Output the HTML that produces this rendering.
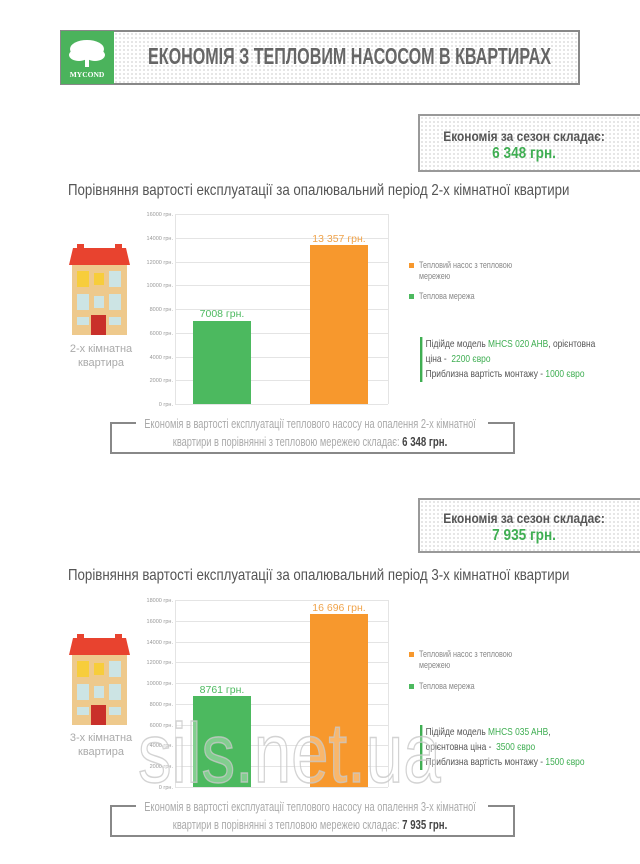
<!DOCTYPE html>
<html><head><meta charset="utf-8"><style>
*{margin:0;padding:0;box-sizing:border-box}
body{width:640px;height:864px;background:#fff;position:relative;overflow:hidden;font-family:"Liberation Sans",sans-serif;color:#555}
.a{position:absolute}
.s{display:inline-block;white-space:nowrap}
.dot{background-color:#fff;background-image:radial-gradient(#ddd 0.8px,transparent 1px);background-size:4px 4px}
.sum{border:2px solid #999;text-align:center;font-weight:bold;font-size:14px;line-height:17px;color:#555;padding-right:14px}
.sum b{color:#3fae52;font-size:16px}
.title{font-size:16px;color:#555;white-space:nowrap;transform:scaleX(0.83);transform-origin:left top}
.br{border:2px solid #888;border-top:none}
.brt{height:2px;background:#888}
.btxt{font-size:12.5px;color:#aaa;text-align:center;line-height:17px;white-space:nowrap}
.btxt b{color:#444;font-size:13px}
.leg{font-size:9px;color:#888;line-height:11px;white-space:nowrap;transform:scaleX(0.8);transform-origin:left top}
.info{font-size:10.5px;color:#555;line-height:15px;border-left:3px solid #3fae52;padding-left:4px;white-space:nowrap;transform:scaleX(0.8);transform-origin:left top}
.info span{color:#3fae52}
.cap{font-size:11px;color:#aaa;text-align:center;line-height:14px}
</style></head><body>

<div class="a dot" style="left:60px;top:30px;width:520px;height:55px;border:2px solid #888"></div>
<div class="a" style="left:61px;top:31px;width:53px;height:53px;background:#4bb35c">
<svg width="53" height="53"><ellipse cx="26" cy="18" rx="17" ry="9" fill="#fff"/><ellipse cx="18" cy="24" rx="10" ry="6" fill="#fff"/><ellipse cx="34" cy="24" rx="10" ry="6" fill="#fff"/><rect x="24" y="24" width="4" height="12" fill="#fff"/><text x="26" y="46" font-size="7.5" fill="#fff" text-anchor="middle" font-family="Liberation Serif,serif" font-weight="bold">MYCOND</text></svg></div>
<div class="a" style="left:148px;top:43px;font-size:23px;font-weight:bold;color:#666;white-space:nowrap;transform:scaleX(0.70);transform-origin:left top">ЕКОНОМІЯ З ТЕПЛОВИМ НАСОСОМ В КВАРТИРАХ</div>

<div class="a dot sum" style="left:418px;top:114px;width:226px;height:58px;padding-top:12px"><span class="s" style="transform:scaleX(0.85)">Економія за сезон складає:<br><b>6 348 грн.</b></span></div>
<div class="a title" style="left:68px;top:182px">Порівняння вартості експлуатації за опалювальний період 2-х кімнатної квартири</div>

<svg class="a" style="left:0;top:0" width="640" height="864">
<defs>
<g id="house">
<rect x="8" y="-2" width="7" height="5" fill="#e8432f"/><rect x="46" y="-2" width="7" height="5" fill="#e8432f"/>
<polygon points="4,2 57,2 61,19 0,19" fill="#e8432f"/>
<rect x="3" y="19" width="55" height="70" fill="#eec98c"/>
<rect x="8" y="25" width="12" height="16" fill="#f7cd3b"/><rect x="25" y="27" width="10" height="12" fill="#f7cd3b"/><rect x="40" y="25" width="12" height="16" fill="#cce4e4"/>
<rect x="8" y="48" width="12" height="16" fill="#cce4e4"/><rect x="25" y="50" width="10" height="12" fill="#cce4e4"/><rect x="40" y="48" width="12" height="16" fill="#cce4e4"/>
<rect x="8" y="71" width="12" height="8" fill="#cce4e4"/><rect x="40" y="71" width="12" height="8" fill="#cce4e4"/>
<rect x="22" y="69" width="15" height="20" fill="#c9302a"/>
</g>
</defs>
<use href="#house" x="69" y="246"/>
<use href="#house" x="69" y="636"/>

<g stroke="#e4e4e4" stroke-width="1">
<line x1="175" y1="214.5" x2="388" y2="214.5"/><line x1="175" y1="238.5" x2="388" y2="238.5"/><line x1="175" y1="262.5" x2="388" y2="262.5"/><line x1="175" y1="285.5" x2="388" y2="285.5"/><line x1="175" y1="309.5" x2="388" y2="309.5"/><line x1="175" y1="333.5" x2="388" y2="333.5"/><line x1="175" y1="357.5" x2="388" y2="357.5"/><line x1="175" y1="380.5" x2="388" y2="380.5"/><line x1="175" y1="404.5" x2="388" y2="404.5"/>
<line x1="175.5" y1="214" x2="175.5" y2="404"/><line x1="388.5" y1="214" x2="388.5" y2="404"/>
</g>
<g font-size="5.5" fill="#999" text-anchor="end" font-family="Liberation Sans,sans-serif">
<text x="173" y="216">16000 грн.</text><text x="173" y="240">14000 грн.</text><text x="173" y="264">12000 грн.</text><text x="173" y="287">10000 грн.</text><text x="173" y="311">8000 грн.</text><text x="173" y="335">6000 грн.</text><text x="173" y="359">4000 грн.</text><text x="173" y="382">2000 грн.</text><text x="173" y="406">0 грн.</text>
</g>
<rect x="193" y="321" width="58" height="83" fill="#4cb95f"/>
<rect x="310" y="245" width="58" height="159" fill="#f7982d"/>
<text x="222" y="317" font-size="10.5" fill="#4cb95f" text-anchor="middle">7008 грн.</text>
<text x="339" y="242" font-size="10.5" fill="#f0a34a" text-anchor="middle">13 357 грн.</text>

<g stroke="#e4e4e4" stroke-width="1">
<line x1="175" y1="600.5" x2="388" y2="600.5"/><line x1="175" y1="621.5" x2="388" y2="621.5"/><line x1="175" y1="642.5" x2="388" y2="642.5"/><line x1="175" y1="662.5" x2="388" y2="662.5"/><line x1="175" y1="683.5" x2="388" y2="683.5"/><line x1="175" y1="704.5" x2="388" y2="704.5"/><line x1="175" y1="725.5" x2="388" y2="725.5"/><line x1="175" y1="745.5" x2="388" y2="745.5"/><line x1="175" y1="766.5" x2="388" y2="766.5"/><line x1="175" y1="787.5" x2="388" y2="787.5"/>
<line x1="175.5" y1="600" x2="175.5" y2="787"/><line x1="388.5" y1="600" x2="388.5" y2="787"/>
</g>
<g font-size="5.5" fill="#999" text-anchor="end" font-family="Liberation Sans,sans-serif">
<text x="173" y="602">18000 грн.</text><text x="173" y="623">16000 грн.</text><text x="173" y="644">14000 грн.</text><text x="173" y="664">12000 грн.</text><text x="173" y="685">10000 грн.</text><text x="173" y="706">8000 грн.</text><text x="173" y="727">6000 грн.</text><text x="173" y="747">4000 грн.</text><text x="173" y="768">2000 грн.</text><text x="173" y="789">0 грн.</text>
</g>
<rect x="193" y="696" width="58" height="91" fill="#4cb95f"/>
<rect x="310" y="614" width="58" height="173" fill="#f7982d"/>
<text x="222" y="693" font-size="10.5" fill="#4cb95f" text-anchor="middle">8761 грн.</text>
<text x="339" y="611" font-size="10.5" fill="#f0a34a" text-anchor="middle">16 696 грн.</text>

<rect x="409" y="263" width="5" height="5" fill="#f7982d"/><rect x="409" y="294" width="5" height="5" fill="#4cb95f"/>
<rect x="409" y="652" width="5" height="5" fill="#f7982d"/><rect x="409" y="684" width="5" height="5" fill="#4cb95f"/>
</svg>

<div class="a leg" style="left:419px;top:260px">Тепловий насос з тепловою<br>мережею</div>
<div class="a leg" style="left:419px;top:291px">Теплова мережа</div>
<div class="a info" style="left:420px;top:337px">Підійде модель <span>MHCS 020 AHB</span>, орієнтовна<br>ціна - &nbsp;<span>2200 євро</span><br>Приблизна вартість монтажу - <span>1000 євро</span></div>
<div class="a cap" style="left:66px;top:342px;width:70px">2-х кімнатна<br>квартира</div>

<div class="a br" style="left:110px;top:422px;width:405px;height:32px"></div>
<div class="a brt" style="left:110px;top:422px;width:26px"></div>
<div class="a brt" style="left:488px;top:422px;width:27px"></div>
<div class="a btxt" style="left:86px;top:416px;width:405px"><span class="s" style="transform:scaleX(0.74)">Економія в вартості експлуатації теплового насосу на опалення 2-х кімнатної<br>квартири в порівнянні з тепловою мережею складає: <b>6 348 грн.</b></span></div>

<div class="a dot sum" style="left:418px;top:498px;width:226px;height:55px;padding-top:10px"><span class="s" style="transform:scaleX(0.85)">Економія за сезон складає:<br><b>7 935 грн.</b></span></div>
<div class="a title" style="left:68px;top:567px">Порівняння вартості експлуатації за опалювальний період 3-х кімнатної квартири</div>

<div class="a leg" style="left:419px;top:649px">Тепловий насос з тепловою<br>мережею</div>
<div class="a leg" style="left:419px;top:681px">Теплова мережа</div>
<div class="a info" style="left:420px;top:725px">Підійде модель <span>MHCS 035 AHB</span>,<br>орієнтовна ціна - &nbsp;<span>3500 євро</span><br>Приблизна вартість монтажу - <span>1500 євро</span></div>
<div class="a cap" style="left:66px;top:731px;width:70px">3-х кімнатна<br>квартира</div>

<div class="a br" style="left:110px;top:805px;width:405px;height:32px"></div>
<div class="a brt" style="left:110px;top:805px;width:26px"></div>
<div class="a brt" style="left:488px;top:805px;width:27px"></div>
<div class="a btxt" style="left:86px;top:799px;width:405px"><span class="s" style="transform:scaleX(0.74)">Економія в вартості експлуатації теплового насосу на опалення 3-х кімнатної<br>квартири в порівнянні з тепловою мережею складає: <b>7 935 грн.</b></span></div>

<div class="a" style="left:138px;top:708px;font-size:84px;color:rgba(255,255,255,0.3);-webkit-text-stroke:1.5px rgba(200,200,200,0.8);white-space:nowrap;line-height:90px;transform:scaleX(0.8);transform-origin:left top">sils.net.ua</div>
</body></html>
